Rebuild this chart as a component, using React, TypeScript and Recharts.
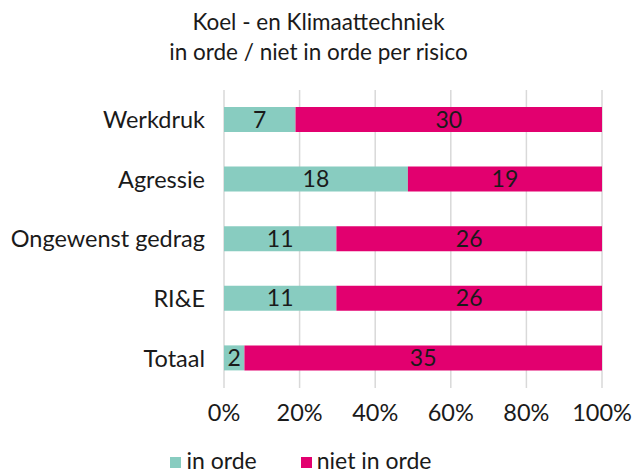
import { BarChart, Bar, XAxis, YAxis, CartesianGrid, Legend, LabelList } from 'recharts';

const categories = ['Werkdruk', 'Agressie', 'Ongewenst gedrag', 'RI&E', 'Totaal'];
const inOrde = [7, 18, 11, 11, 2];
const nietInOrde = [30, 19, 26, 26, 35];
const xTicks = [0, 0.2, 0.4, 0.6, 0.8, 1];

const data = categories.map((name, i) => ({
  name,
  inOrde: inOrde[i],
  nietInOrde: nietInOrde[i],
}));

const FONT = 'Lato, "Open Sans", sans-serif';
const TEXT = '#1a1a1a';
const TEAL = '#88ccc0';
const MAGENTA = '#e2006f';

const LegendContent = () => (
  <div style={{ display: 'flex', justifyContent: 'center', gap: 44, fontFamily: FONT, fontSize: 23, lineHeight: '28px', color: TEXT }}>
    <span style={{ display: 'flex', alignItems: 'flex-end' }}>
      <span style={{ width: 11, height: 11, background: TEAL, marginRight: 5, marginBottom: 6 }} />
      in orde
    </span>
    <span style={{ display: 'flex', alignItems: 'flex-end' }}>
      <span style={{ width: 11, height: 11, background: MAGENTA, marginRight: 5, marginBottom: 6 }} />
      niet in orde
    </span>
  </div>
);

export default function App() {
  return (
    <div style={{ position: 'absolute', left: 0, top: 0, width: 637, height: 474, background: '#fff' }}>
      <div
        style={{
          position: 'absolute',
          top: 7,
          left: 0,
          width: 637,
          textAlign: 'center',
          fontFamily: FONT,
          fontSize: 22.5,
          lineHeight: '30px',
          color: TEXT,
        }}
      >
        Koel - en Klimaattechniek
        <br />
        in orde / niet in orde per risico
      </div>
      <BarChart
        width={637}
        height={474}
        data={data}
        layout="vertical"
        stackOffset="expand"
        barSize={25}
        margin={{ top: 90, right: 35, left: 0, bottom: 0 }}
      >
        <CartesianGrid horizontal={false} stroke="#d9d9d9" strokeWidth={1.5} />
        <XAxis
          type="number"
          domain={[0, 1]}
          ticks={xTicks}
          tickFormatter={(v) => `${Math.round(v * 100)}%`}
          axisLine={false}
          tickLine={false}
          tickMargin={10}
          height={58}
          tick={{ fontSize: 23.5, fill: TEXT, fontFamily: FONT }}
        />
        <YAxis
          type="category"
          dataKey="name"
          width={224}
          axisLine={false}
          tickLine={false}
          tickMargin={13}
          tick={{ fontSize: 23.5, fill: TEXT, fontFamily: FONT }}
        />
        <Legend verticalAlign="bottom" height={28} content={<LegendContent />} />
        <Bar dataKey="inOrde" name="in orde" stackId="a" fill={TEAL} isAnimationActive={false}>
          <LabelList dataKey="inOrde" position="center" fill={TEXT} fontSize={23} fontFamily={FONT} />
        </Bar>
        <Bar dataKey="nietInOrde" name="niet in orde" stackId="a" fill={MAGENTA} isAnimationActive={false}>
          <LabelList dataKey="nietInOrde" position="center" fill={TEXT} fontSize={23} fontFamily={FONT} />
        </Bar>
      </BarChart>
    </div>
  );
}
